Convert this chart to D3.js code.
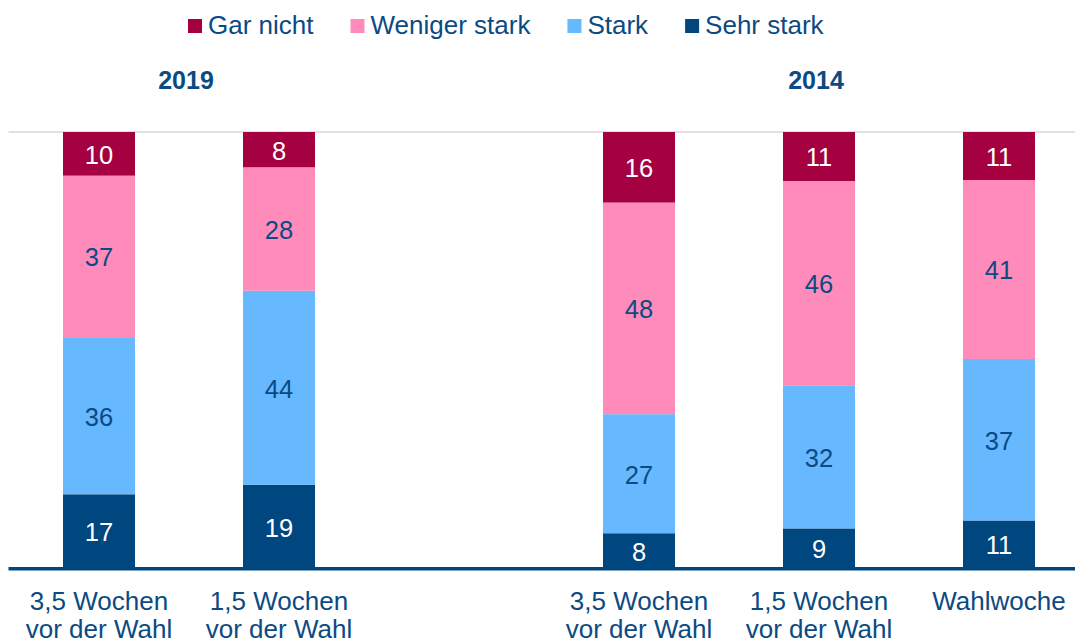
<!DOCTYPE html>
<html>
<head>
<meta charset="utf-8">
<script src="https://cdn.jsdelivr.net/npm/d3@7"></script>
<style>
  body { margin: 0; background: #fff; }
  svg { display: block; font-family: 'Liberation Sans', Arial, sans-serif; }
</style>
</head>
<body>
<div id="chart"></div>
<script>
// one slot left empty between the two survey years
const categories = [
  ['3,5 Wochen', 'vor der Wahl'],
  ['1,5 Wochen', 'vor der Wahl'],
  [],
  ['3,5 Wochen', 'vor der Wahl'],
  ['1,5 Wochen', 'vor der Wahl'],
  ['Wahlwoche']
]
const years = [
  { label: '2019', slots: [0, 1] },
  { label: '2014', slots: [3, 4, 5] }
]
const seriesNames = ['Sehr stark', 'Stark', 'Weniger stark', 'Gar nicht']
const sehrStark    = [17, 19, null, 8, 9, 11]
const stark        = [36, 44, null, 27, 32, 37]
const wenigerStark = [37, 28, null, 48, 46, 41]
const garNicht     = [10, 8, null, 16, 11, 11]

const colors = {
  'Gar nicht': '#a5003f',
  'Weniger stark': '#ff8bba',
  'Stark': '#66b8ff',
  'Sehr stark': '#00467f'
}
const labelColors = {
  'Gar nicht': '#ffffff',
  'Weniger stark': '#0b4a82',
  'Stark': '#0b4a82',
  'Sehr stark': '#ffffff'
}
const legendOrder = ['Gar nicht', 'Weniger stark', 'Stark', 'Sehr stark']
const TEXT = '#0b4a82'

const width = 1075
const height = 643

const rows = categories.map((c, i) => ({
  i,
  'Sehr stark': sehrStark[i],
  'Stark': stark[i],
  'Weniger stark': wenigerStark[i],
  'Gar nicht': garNicht[i]
}))
const filled = rows.filter(r => r['Stark'] !== null)

const stack = d3.stack()
  .keys(seriesNames)
  .offset(d3.stackOffsetExpand)
const layers = stack(filled)

const x = d3.scaleBand()
  .domain(d3.range(categories.length))
  .range([9, 1089])
  .paddingInner(0.6)
  .paddingOuter(0.3)

const y = d3.scaleLinear()
  .domain([0, 1])
  .range([568.5, 132])

const svg = d3.select('#chart').append('svg')
  .attr('width', width)
  .attr('height', height)

// top gridline
svg.append('line')
  .attr('x1', 8.5).attr('x2', width)
  .attr('y1', y(1)).attr('y2', y(1))
  .attr('stroke', '#d9d9d9')
  .attr('stroke-width', 1.5)

const layerG = svg.selectAll('g.layer')
  .data(layers)
  .enter()
    .append('g')
    .attr('class', 'layer')
    .attr('fill', d => colors[d.key])

layerG.selectAll('rect')
  .data(d => d)
  .enter()
    .append('rect')
    .attr('x', d => x(d.data.i))
    .attr('width', x.bandwidth())
    .attr('y', d => y(d[1]))
    .attr('height', d => y(d[0]) - y(d[1]))

layerG.selectAll('text')
  .data(d => d.map(p => ({ p, key: d.key })))
  .enter()
    .append('text')
    .attr('x', d => x(d.p.data.i) + x.bandwidth() / 2)
    .attr('y', d => (y(d.p[0]) + y(d.p[1])) / 2 + 1)
    .attr('dy', '0.35em')
    .attr('text-anchor', 'middle')
    .attr('font-size', 25.5)
    .attr('fill', d => labelColors[d.key])
    .text(d => d.p.data[d.key])

// baseline
svg.append('line')
  .attr('x1', 8.5).attr('x2', width)
  .attr('y1', 568.7).attr('y2', 568.7)
  .attr('stroke', '#00467f')
  .attr('stroke-width', 3.5)

// category labels
const catText = svg.selectAll('text.cat')
  .data(categories)
  .enter()
    .append('text')
    .attr('class', 'cat')
    .attr('text-anchor', 'middle')
    .attr('font-size', 26)
    .attr('fill', TEXT)

catText.selectAll('tspan')
  .data((d, i) => d.map(line => ({ line, i })))
  .enter()
    .append('tspan')
    .attr('x', d => x(d.i) + x.bandwidth() / 2)
    .attr('y', (d, j) => 610 + j * 28)
    .text(d => d.line)

// year headings
svg.selectAll('text.year')
  .data(years)
  .enter()
    .append('text')
    .attr('class', 'year')
    .attr('x', d => {
      const first = x(d.slots[0])
      const last = x(d.slots[d.slots.length - 1]) + x.bandwidth()
      return (first + last) / 2 - 3
    })
    .attr('y', 89)
    .attr('text-anchor', 'middle')
    .attr('font-size', 25)
    .attr('font-weight', 'bold')
    .attr('fill', TEXT)
    .text(d => d.label)

// legend
const legend = svg.append('g').attr('class', 'legend')
let lx = 188
legendOrder.forEach(name => {
  legend.append('rect')
    .attr('x', lx).attr('y', 19)
    .attr('width', 14).attr('height', 14)
    .attr('fill', colors[name])
  const t = legend.append('text')
    .attr('x', lx + 20)
    .attr('y', 34)
    .attr('font-size', 26)
    .attr('fill', TEXT)
    .text(name)
  lx += 20 + t.node().getComputedTextLength() + 37
})
</script>
</body>
</html>
